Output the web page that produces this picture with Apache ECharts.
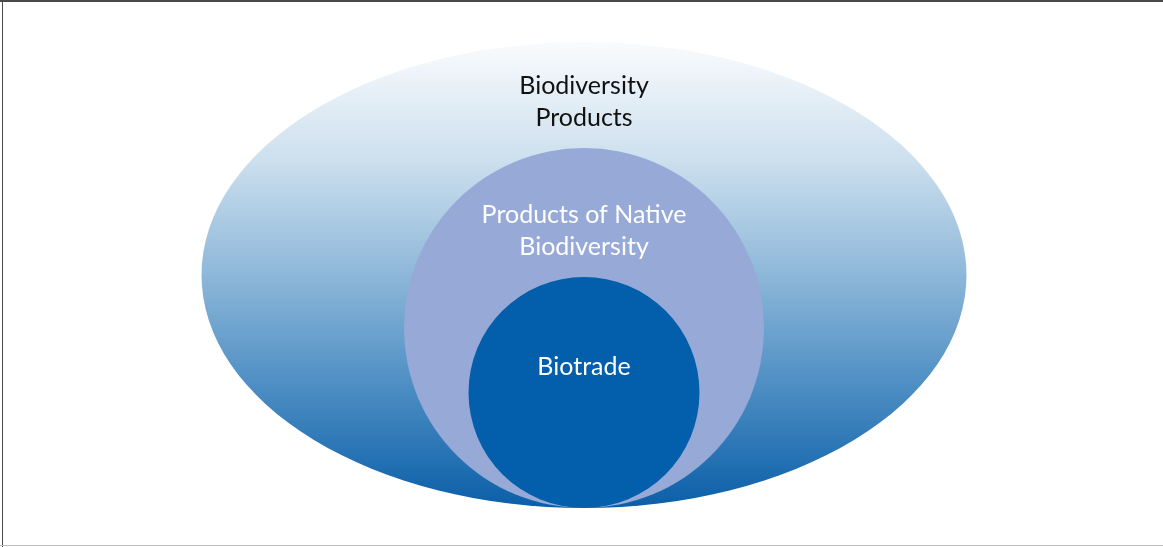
<!DOCTYPE html>
<html>
<head>
<meta charset="utf-8">
<script src="https://cdn.jsdelivr.net/npm/echarts@6/dist/echarts.min.js"></script>
<style>
html,body{margin:0;padding:0;background:#fff;}
#chart{width:1163px;height:547px;position:relative;}
.bt{position:absolute;left:0;top:0;width:1163px;height:2px;background:#4a4a4a;}
.bl{position:absolute;left:2px;top:0;width:1px;height:547px;background:#4a4a4a;}
.bb{position:absolute;left:0;top:545px;width:1163px;height:1px;background:#bdbdbd;}
</style>
</head>
<body>
<div id="chart"></div>
<div class="bt"></div><div class="bl"></div><div class="bb"></div>
<script>
// Nested sets (outer to inner)
const categories = ['Biodiversity\nProducts', 'Products of Native\nBiodiversity', 'Biotrade'];
// shape extents in diagram units: [width, height]
const widths  = [765, 360, 231];
const heights = [466, 360, 231];
// centres in diagram units (all share common bottom)
const centerX = [584, 584, 584];
const centerY = [275, 328, 392.5];

const chart = echarts.init(document.getElementById('chart'));

const fills = [
  new echarts.graphic.LinearGradient(0, 0, 0, 1, [
    {offset: 0, color: '#f9fbfd'},
    {offset: 0.25, color: '#cde0ee'},
    {offset: 0.5, color: '#8db7d9'},
    {offset: 0.75, color: '#4a8cc2'},
    {offset: 1, color: '#0a5ea8'}
  ]),
  '#97a9d6',
  '#035fab'
];
const labelColors = ['#111111', '#ffffff', '#ffffff'];
const labelOffsets = [[0, -173], [0, -97], [0, -26]];

const data = categories.map((c, i) => ({
  name: c,
  value: [centerX[i], centerY[i]],
  symbolSize: [widths[i], heights[i]],
  itemStyle: {color: fills[i], opacity: 1},
  label: {
    show: true,
    position: 'inside',
    offset: labelOffsets[i],
    formatter: c,
    color: labelColors[i],
    opacity: 1,
    fontFamily: 'Lato',
    fontSize: 25,
    lineHeight: 32
  }
}));

chart.setOption({
  animation: false,
  grid: {left: 0, right: 0, top: 0, bottom: 0},
  xAxis: {type: 'value', min: 0, max: 1163, show: false},
  yAxis: {type: 'value', min: 0, max: 547, inverse: true, show: false},
  series: [{
    type: 'scatter',
    symbol: 'circle',
    data: data,
    itemStyle: {opacity: 1},
    emphasis: {disabled: true}
  }]
});
</script>
</body>
</html>
